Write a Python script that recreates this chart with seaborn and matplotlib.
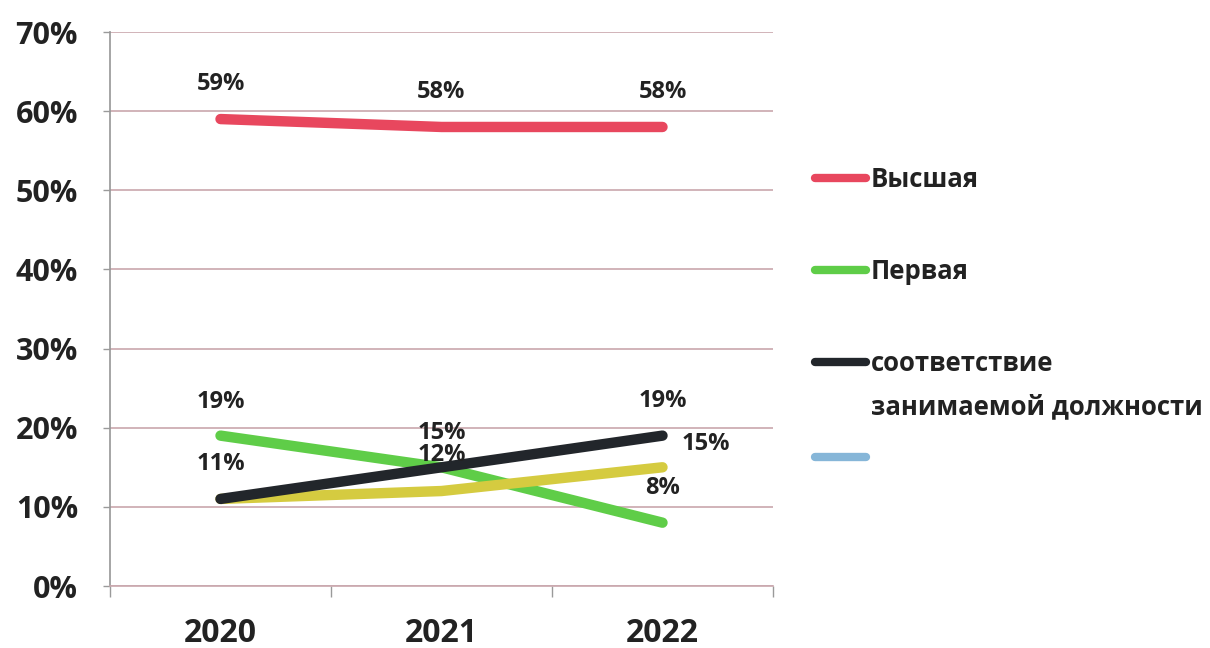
import matplotlib
matplotlib.use("Agg")
import matplotlib.pyplot as plt
from matplotlib.lines import Line2D
import seaborn as sns
import pandas as pd

years = ["2020", "2021", "2022"]
vysshaya = [59, 58, 58]
pervaya = [19, 15, 8]
sootvetstvie = [11, 15, 19]
extra = [11, 12, 15]

names = ["Высшая", "Первая", "соответствие\nзанимаемой должности", "extra"]
colors = ["#e8475e", "#5fcd48", "#22262b", "#d5cb40"]
legend_blue = "#86b6d8"

series_vals = [vysshaya, pervaya, sootvetstvie, extra]
rows = []
for name, vals in zip(names, series_vals):
    for i, (y, v) in enumerate(zip(years, vals)):
        rows.append({"pos": i, "year": y, "series": name, "value": v})
df = pd.DataFrame(rows)

sns.set_theme(style="white")
plt.rcParams["font.family"] = ["Open Sans", "DejaVu Sans"]

fig = plt.figure(figsize=(12.1, 6.48), dpi=100)
ax = fig.add_axes([110 / 1210, 1 - 586 / 648, (773 - 110) / 1210, (586 - 32) / 648])

order = ["Высшая", "Первая", "extra", "соответствие\nзанимаемой должности"]
palette = dict(zip(names, colors))
for s in order:
    sub = df[df["series"] == s]
    sns.lineplot(data=sub, x="pos", y="value", color=palette[s], linewidth=7.5,
                 solid_capstyle="round", ax=ax, legend=False, estimator=None, sort=False)

ax.set_ylim(0, 70)
ax.set_xlim(-0.5, 2.5)
ax.set_yticks(range(0, 71, 10))
ax.set_yticklabels([f"{v}%" for v in range(0, 71, 10)], fontsize=22, fontweight="bold", color="#222222")
ax.tick_params(axis="y", length=5, width=1, color="#9a9a9a", pad=18, left=True)
ax.set_xticks([-0.5, 0.5, 1.5, 2.5])
ax.set_xticklabels([])
ax.set_xticks([0, 1, 2], minor=True)
ax.set_xticklabels(years, minor=True, fontsize=23, fontweight="bold", color="#222222")
ax.tick_params(axis="x", which="major", length=8, width=1, color="#9a9a9a", bottom=True)
ax.tick_params(axis="x", which="minor", length=0, pad=22)
ax.set_xlabel("")
ax.set_ylabel("")
ax.yaxis.grid(True, color="#c9a7ad", linewidth=1.2)
ax.xaxis.grid(False)
for side in ["top", "right"]:
    ax.spines[side].set_visible(False)
ax.spines["left"].set_color("#9a9a9a")
ax.spines["bottom"].set_color("#c9a7ad")
ax.spines["bottom"].set_linewidth(1.2)

lab = dict(fontsize=17, fontweight="bold", color="#222222", ha="center", va="center",
           textcoords="offset points")
for i, v in enumerate(vysshaya):
    ax.annotate(f"{v}%", (i, v), xytext=(0, 25), **lab)
ax.annotate(f"{pervaya[0]}%", (0, pervaya[0]), xytext=(0, 24), **lab)
ax.annotate(f"{pervaya[2]}%", (2, pervaya[2]), xytext=(0, 25), **lab)
for i, v in enumerate(sootvetstvie):
    ax.annotate(f"{v}%", (i, v), xytext=(0, 25), **lab)
ax.annotate(f"{extra[1]}%", (1, extra[1]), xytext=(0, 26), **lab)
ax.annotate(f"{extra[2]}%", (2, extra[2]), xytext=(31, 17), **lab)

# legend drawn in figure pixels
W, H = 1210, 648
leg_y = [178, 270, 362, 457]
leg_labels = names[:3] + [""]
leg_colors = colors[:3] + [legend_blue]
for y, txt, c in zip(leg_y, leg_labels, leg_colors):
    fig.add_artist(Line2D([815 / W, 866 / W], [1 - y / H, 1 - y / H], color=c, linewidth=6,
                          solid_capstyle="round", transform=fig.transFigure))
    if txt:
        fig.text(871 / W, 1 - (y - 12) / H, txt, ha="left", va="top", fontsize=18.5,
                 fontweight="bold", color="#222222", linespacing=1.78)

fig.savefig("out.png", dpi=100)
